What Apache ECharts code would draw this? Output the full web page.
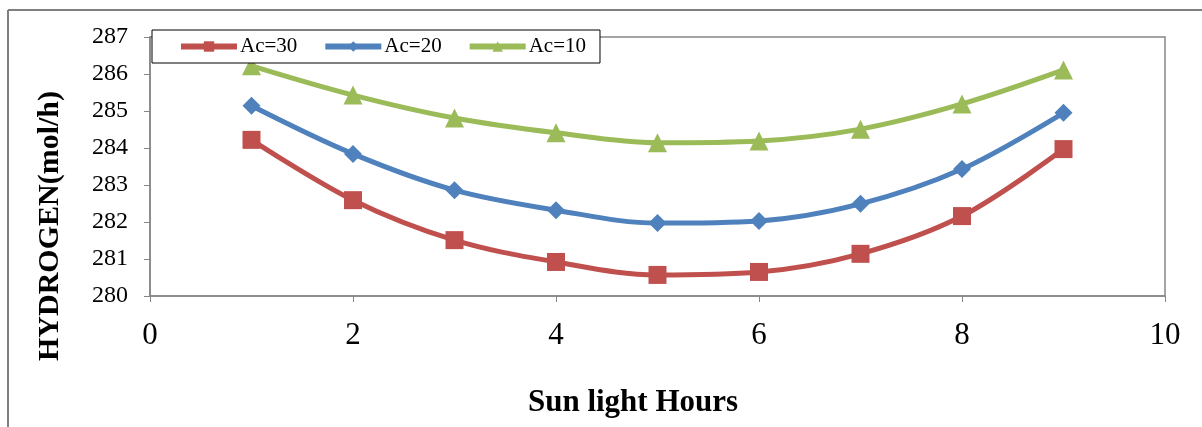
<!DOCTYPE html>
<html>
<head>
<meta charset="utf-8">
<script src="https://cdn.jsdelivr.net/npm/echarts@6/dist/echarts.min.js"></script>
<style>
  html, body { margin: 0; padding: 0; background: #fff; }
  #chart { width: 1202px; height: 427px; }
</style>
</head>
<body>
<div id="chart"></div>
<script>
// sun light hours
const hours = [1, 2, 3, 4, 5, 6, 7, 8, 9];
// hydrogen production (mol/h) per collector area
const ac30 = [284.22, 282.59, 281.51, 280.92, 280.57, 280.65, 281.14, 282.16, 283.97];
const ac20 = [285.14, 283.84, 282.86, 282.32, 281.97, 282.03, 282.49, 283.43, 284.95];
const ac10 = [286.22, 285.43, 284.81, 284.41, 284.14, 284.19, 284.51, 285.19, 286.11];
const seriesNames = ["Ac=30", "Ac=20", "Ac=10"];
const xTitle = "Sun light Hours";
const yTitle = "HYDROGEN(mol/h)";

const chart = echarts.init(document.getElementById("chart"));
const serif = "Liberation Serif";
const grey = "#868686";

const makeSeries = (name, values, color, symbol, size) => ({
  name,
  type: "line",
  smooth: 0.35,
  data: hours.map((h, i) => [h, values[i]]),
  symbol,
  symbolSize: size,
  lineStyle: { color, width: 5 },
  itemStyle: { color },
});

chart.setOption({
  animation: false,
  grid: {
    left: 150, right: 37, top: 37, bottom: 131,
    show: true, borderColor: grey, borderWidth: 1.5,
  },
  legend: {
    left: 152, top: 30,
    padding: [6, 14, 6, 26],
    itemGap: 25,
    itemWidth: 56, itemHeight: 13,
    borderColor: "#000", borderWidth: 1,
    backgroundColor: "#fff",
    lineStyle: { width: 6 },
    textStyle: { fontFamily: serif, fontSize: 21, color: "#000", padding: [0, 0, 0, -2] },
    data: seriesNames,
  },
  xAxis: {
    type: "value",
    min: 0, max: 10, interval: 2,
    axisLine: { lineStyle: { color: grey, width: 1.5 } },
    axisTick: { show: true, inside: false, length: 6, lineStyle: { color: grey } },
    axisLabel: { fontFamily: serif, fontSize: 31, color: "#000", margin: 24 },
    splitLine: { show: false },
  },
  yAxis: {
    type: "value",
    min: 280, max: 287, interval: 1,
    axisLine: { show: true, lineStyle: { color: grey, width: 1.5 } },
    axisTick: { show: true, inside: false, length: 6, lineStyle: { color: grey } },
    axisLabel: { fontFamily: serif, fontSize: 24, color: "#000", margin: 22 },
    splitLine: { show: false },
  },
  series: [
    makeSeries("Ac=30", ac30, "#C0504D", "rect", 18),
    makeSeries("Ac=20", ac20, "#4F81BD", "diamond", 18),
    makeSeries("Ac=10", ac10, "#9BBB59", "triangle", 19),
  ],
  graphic: [
    { type: "line", shape: { x1: 8, y1: 10, x2: 1202, y2: 10 }, style: { stroke: "#7f7f7f", lineWidth: 2 } },
    { type: "line", shape: { x1: 8, y1: 10, x2: 8, y2: 427 }, style: { stroke: "#7f7f7f", lineWidth: 2 } },
    {
      type: "text", x: 633, y: 403,
      style: {
        text: xTitle, fill: "#000", font: "bold 31px 'Liberation Serif'",
        textAlign: "center", textVerticalAlign: "middle",
      },
    },
    {
      type: "text", x: 50, y: 226, rotation: Math.PI / 2,
      style: {
        text: yTitle, fill: "#000", font: "bold 30px 'Liberation Serif'",
        textAlign: "center", textVerticalAlign: "middle",
      },
    },
  ],
});
</script>
</body>
</html>
